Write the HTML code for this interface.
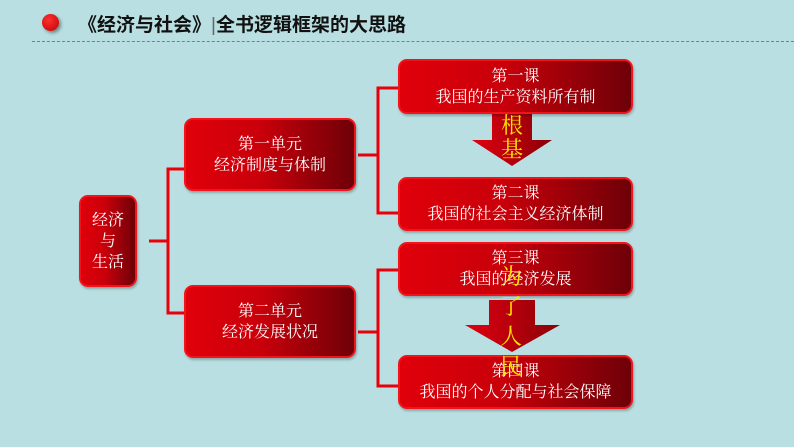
<!DOCTYPE html>
<html><head><meta charset="utf-8"><style>
body{margin:0;width:794px;height:447px;background:#b9dfe2;position:relative;overflow:hidden;font-family:"Liberation Serif","Noto Serif CJK SC",serif}
.b{position:absolute;box-sizing:border-box;border:2px solid #f2141c;border-radius:9px;background:linear-gradient(90deg,#e0000a 0%,#c8000a 45%,#6e0008 100%);color:#fff;text-align:center;display:flex;align-items:center;justify-content:center;font-size:16px;line-height:21px;box-shadow:1px 2px 2px rgba(0,0,0,.25)}
.t{position:absolute;font-family:"Liberation Sans","Noto Sans CJK SC",sans-serif;font-weight:bold;font-size:19px;left:78px;top:10px;color:#111}
.y{position:absolute;color:#ffe600;font-size:22px;line-height:24px;width:24px;text-align:center}
</style></head><body>
<div style="position:absolute;left:42px;top:14px;width:17px;height:17px;border-radius:50%;background:radial-gradient(circle at 40% 35%,#ff3030,#c00000);box-shadow:2px 2px 3px rgba(0,0,0,.4)"></div>
<div class="t">《经济与社会》<span style="font-weight:normal;color:#666">|</span>全书逻辑框架的大思路</div>
<div style="position:absolute;left:32px;right:0;top:41px;border-top:1px dashed #a07070"></div>
<svg width="794" height="447" style="position:absolute;left:0;top:0">
<g fill="none" stroke="#e8000a" stroke-width="3">
<path d="M184 169H168V313H184M149 241H168"/>
<path d="M398 88H378V213H398M358 155H378"/>
<path d="M398 270H378V386H398M358 332H378"/>
</g>
<defs><linearGradient id="g" x1="0" x2="1"><stop offset="0" stop-color="#e00010"/><stop offset="1" stop-color="#8a0008"/></linearGradient></defs>
<path d="M492 113H532V140H552L512 166L472 140H492Z" fill="url(#g)"/>
<path d="M489 300H535V325H560L512 352L465 325H489Z" fill="url(#g)"/>
</svg>
<div class="b" style="left:79px;top:195px;width:58px;height:92px">经济<br>与<br>生活</div>
<div class="b" style="left:184px;top:118px;width:172px;height:73px">第一单元<br>经济制度与体制</div>
<div class="b" style="left:184px;top:285px;width:172px;height:73px">第二单元<br>经济发展状况</div>
<div class="b" style="left:398px;top:59px;width:235px;height:55px">第一课<br>我国的生产资料所有制</div>
<div class="b" style="left:398px;top:177px;width:235px;height:54px">第二课<br>我国的社会主义经济体制</div>
<div class="b" style="left:398px;top:242px;width:235px;height:54px">第三课<br>我国的经济发展</div>
<div class="b" style="left:398px;top:355px;width:235px;height:54px">第四课<br>我国的个人分配与社会保障</div>
<div class="y" style="left:500px;top:114px">根<br>基</div>
<div class="y" style="left:499px;top:262px;line-height:30px">为<br>了<br>人<br>民</div>
</body></html>
